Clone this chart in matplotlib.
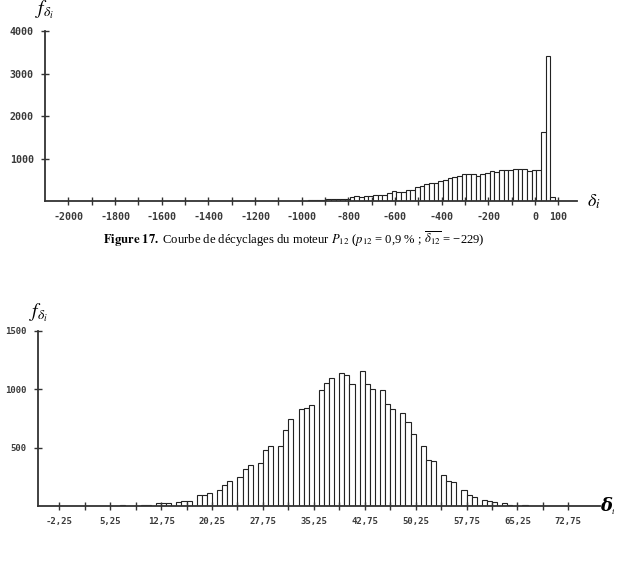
import numpy as np
import matplotlib
matplotlib.use("Agg")
import matplotlib.pyplot as plt

plt.rcParams["mathtext.fontset"] = "stix"

# --- Figure 17 : décyclages P12, classes of 20 ---
top_classes = np.arange(-985, 76, 20)
top_freq = [10, 15, 20, 25, 30,
            45, 45, 50, 50, 55, 90, 110, 100, 125, 125,
            145, 150, 150, 185, 225, 215, 205, 260, 270, 318,
            360, 400, 420, 430, 460, 498, 533, 565, 600, 625,
            632, 630, 600, 645, 648, 705, 678, 725, 725, 730,
            760, 762, 755, 715, 730, 730, 1616, 3420, 86]
top_xticks = np.arange(-2000, 101, 100)
top_yticks = [1000, 2000, 3000, 4000]

# --- second histogram : integer deltas, classes of 0.75 ---
bot_delta = np.arange(7, 68)
bot_freq = [10, 3, 6, 7, 7, 25, 30, 28, 38, 45,
            45, 97, 97, 111, 139, 182, 216, 253, 316, 355,
            367, 481, 515, 515, 648, 743, 828, 842, 862, 990,
            1050, 1098, 1142, 1121, 1044, 1152, 1044, 998, 993, 872,
            828, 799, 718, 617, 515, 398, 387, 267, 219, 206,
            142, 94, 80, 54, 46, 34, 31, 11, 6, 11, 3]
bot_edges = np.arange(-2.25, 78, 0.75)
bot_xticks = np.arange(-2.25, 73, 3.75)
bot_yticks = [500, 1000, 1500]

W, H = 618, 565
fig = plt.figure(figsize=(W / 100, H / 100), dpi=100)
fig.patch.set_facecolor("white")


def px_axes(x0, y0, x1, y1):
    return fig.add_axes([x0 / W, 1 - y1 / H, (x1 - x0) / W, (y1 - y0) / H])


def style(ax, size):
    for s in ("top", "right"):
        ax.spines[s].set_visible(False)
    for s in ("left", "bottom"):
        ax.spines[s].set_linewidth(1.3)
        ax.spines[s].set_color("#333333")
    ax.tick_params(direction="inout", length=6, width=1.0, color="#333333",
                   labelcolor="#3a3a3a", labelsize=size, pad=5)
    for lab in ax.get_xticklabels() + ax.get_yticklabels():
        lab.set_family("DejaVu Sans Mono")
        lab.set_weight("bold")


ax1 = px_axes(45, 31, 577, 201)
ax1.bar(top_classes, top_freq, width=20, color="white", edgecolor="#222222",
        linewidth=0.8)
ax1.set_xlim(-2100, 180)
ax1.set_ylim(0, 4000)
ax1.set_xticks(top_xticks)
ax1.set_xticklabels([str(t) if (t % 200 == 0 or t == 100) else ""
                     for t in top_xticks])
ax1.set_yticks(top_yticks)
ax1.set_yticklabels([str(t) for t in top_yticks])
style(ax1, 7.2)

ax2 = px_axes(38, 330.7, 600, 506.3)
ax2.hist(bot_delta, bins=bot_edges, weights=bot_freq, color="white",
         edgecolor="#222222", linewidth=0.8)
ax2.set_xlim(-5.39, 77.42)
ax2.set_ylim(0, 1500)
ax2.set_xticks(bot_xticks)
ax2.set_xticklabels([f"{t:.2f}".replace(".", ",") if i % 2 == 0 else ""
                     for i, t in enumerate(bot_xticks)])
ax2.set_yticks(bot_yticks)
ax2.set_yticklabels([str(t) for t in bot_yticks])
style(ax2, 6.5)

# axis labels
fig.text(45 / W, 1 - 10 / H, r"$f_{\delta_i}$", fontsize=14,
         ha="center", va="center")
fig.text(594 / W, 1 - 202 / H, r"$\delta_i$", fontsize=13,
         ha="center", va="center")
fig.text(39 / W, 1 - 313 / H, r"$f_{\delta_i}$", fontsize=14,
         ha="center", va="center")
fig.text(600 / W, 1 - 506 / H, "δ", fontsize=13, family="DejaVu Serif",
         weight="bold", style="italic", ha="left", va="center")
fig.text(612 / W, 1 - 512 / H, "i", fontsize=5.5, family="DejaVu Serif",
         style="italic", ha="left", va="center")

caption = (r"$\mathbf{Figure\ 17.}$ Courbe de décyclages du moteur $P_{12}$ "
           r"($p_{12}$ = 0,9 % ; $\overline{\delta_{12}}$ = −229)")
fig.text(294 / W, 1 - 239 / H, caption, fontsize=9.1,
         family="Liberation Serif", ha="center", va="center")

fig.savefig("out.png", dpi=100, facecolor="white")
